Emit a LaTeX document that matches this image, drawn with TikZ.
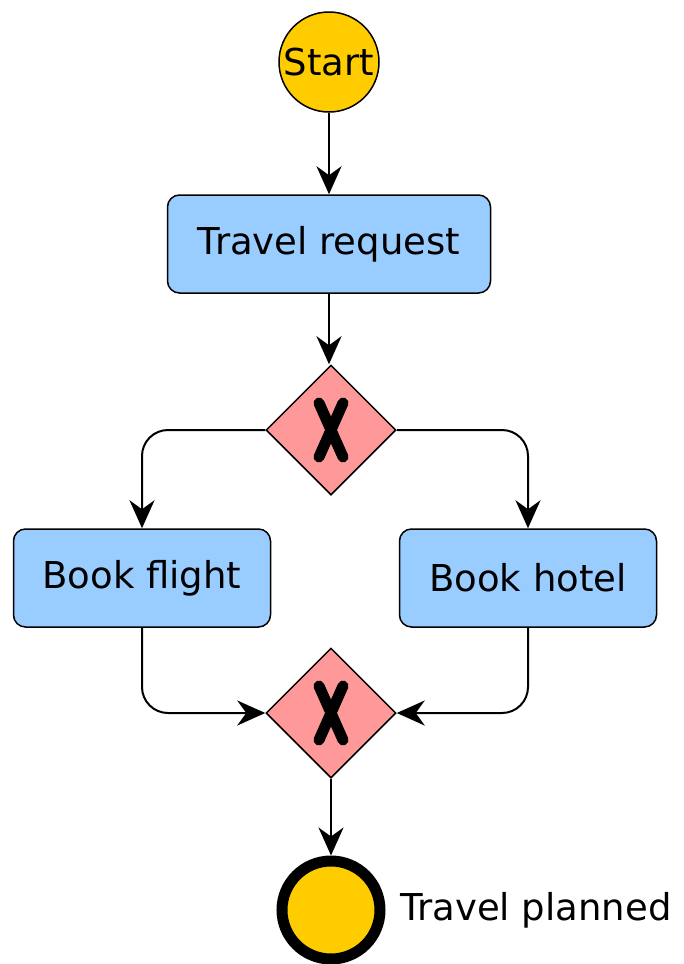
\documentclass[tikz,border=0pt]{standalone}
\usepackage{fontspec}
\setmainfont{DejaVu Sans}
\usetikzlibrary{arrows.meta, calc, shapes.geometric}
\definecolor{eventyellow}{HTML}{FFCC00}
\definecolor{taskblue}{HTML}{99CCFF}
\definecolor{gatepink}{HTML}{FF9999}

\begin{document}
\begin{tikzpicture}[x=1pt, y=-1pt,
  every node/.style={font=\fontsize{37}{44}\selectfont},
  activity/.style={draw, line width=1.5pt, rounded corners=12pt, fill=taskblue,
    minimum height=98pt, inner sep=0pt},
  gateway/.style={diamond, draw, line width=1.5pt, fill=gatepink,
    minimum width=130pt, minimum height=130pt, inner sep=0pt,
    path picture={\draw[line width=11pt, line cap=round]
      ($(path picture bounding box.center)+(-12pt,27pt)$) -- ($(path picture bounding box.center)+(12pt,-27pt)$)
      ($(path picture bounding box.center)+(12pt,27pt)$) -- ($(path picture bounding box.center)+(-12pt,-27pt)$);}},
  flow/.style={-{Stealth[length=28pt, width=25pt, inset=9pt]}, line width=2pt},
]
\useasboundingbox (0,0) rectangle (684,964);

% Events
\node[circle, draw, line width=1.5pt, fill=eventyellow, minimum size=100pt, inner sep=0pt]
  (start) at (329,62) {Start};
\node[circle, draw, line width=11pt, fill=eventyellow, minimum size=98pt, inner sep=0pt]
  (finish) at (331,910) {};
\node[anchor=west, inner sep=0pt] (planned) at (400,910) {Travel planned};

% Tasks
\node[activity, minimum width=323pt] (request) at (329,244) {Travel request};
\node[activity, minimum width=257pt] (flight) at (142,578) {Book flight};
\node[activity, minimum width=257pt] (hotel) at (528,578) {Book hotel};

% Gateways
\node[gateway] (split) at (331,430) {};
\node[gateway] (join) at (331,713) {};

% Flows
\draw[flow] (start) -- (request);
\draw[flow] (request) -- (request |- split.north);
\draw[flow, rounded corners=26pt] (split.west) -| (flight.north);
\draw[flow, rounded corners=26pt] (split.east) -| (hotel.north);
\draw[flow, rounded corners=26pt] (flight.south) |- (join.west);
\draw[flow, rounded corners=26pt] (hotel.south) |- (join.east);
\draw[flow] (join) -- (finish);

\end{tikzpicture}
\end{document}
